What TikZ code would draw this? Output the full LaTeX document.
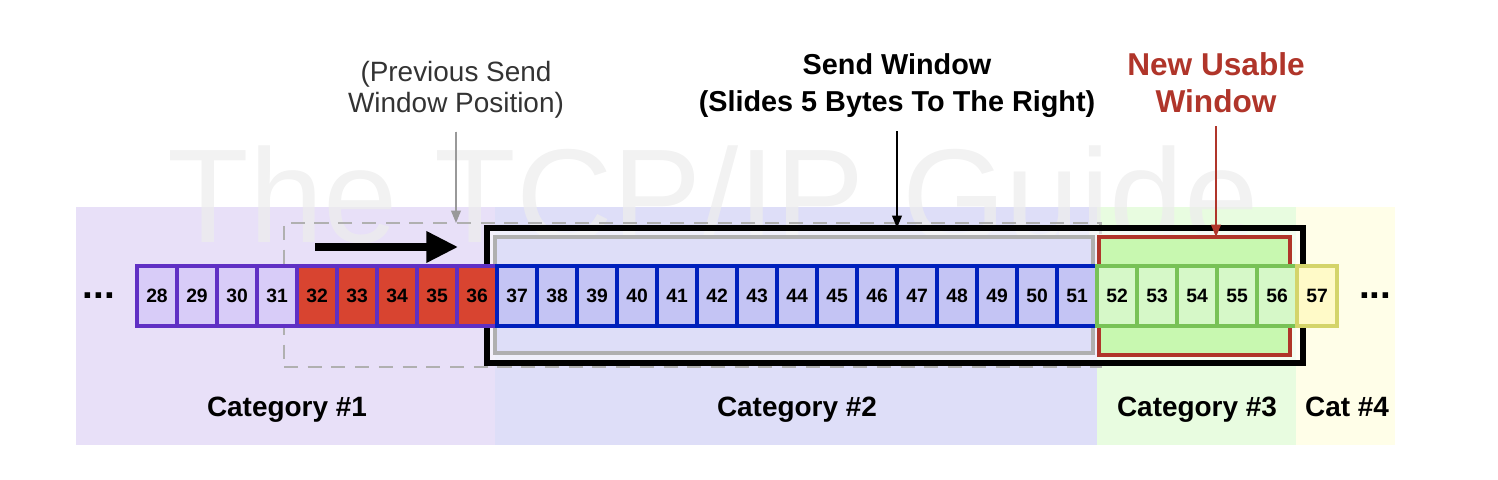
\documentclass[tikz,border=0pt]{standalone}
\usepackage{fontspec}
\setmainfont{Liberation Sans}
\usetikzlibrary{arrows.meta, positioning, fit}

\definecolor{catonebg}{HTML}{E8E0F8}
\definecolor{cattwobg}{HTML}{DEDEF8}
\definecolor{catthreebg}{HTML}{E8FCE0}
\definecolor{catfourbg}{HTML}{FFFEE8}
\definecolor{purpleedge}{HTML}{6030C4}
\definecolor{lilacfill}{HTML}{D8CCF8}
\definecolor{sentfill}{HTML}{D84430}
\definecolor{blueedge}{HTML}{0020BC}
\definecolor{bluefill}{HTML}{C4C4F4}
\definecolor{greenedge}{HTML}{78C256}
\definecolor{greenfill}{HTML}{D6F8C8}
\definecolor{yellowedge}{HTML}{D4D46A}
\definecolor{yellowfill}{HTML}{FFFAC8}
\definecolor{usablered}{HTML}{B0352A}
\definecolor{usablefill}{HTML}{C8F8B0}
\definecolor{oldgray}{HTML}{B0B0B0}

\begin{document}
\begin{tikzpicture}[
    x=0.02cm, y=-0.02cm,
    catbg/.style={fill=#1, draw=none, inner sep=0pt},
    byte/.style 2 args={rectangle, draw=#1, fill=#2, line width=2.6pt, outer sep=0pt, inner sep=0pt, minimum width=0.8cm, minimum height=1.2cm, font=\fontsize{11}{12}\selectfont\bfseries},
    window/.style={inner sep=0pt, outer sep=0pt},
    lbl/.style={align=center, font=\fontsize{15.9}{17.6}\selectfont},
    boldlbl/.style={align=center, font=\fontsize{16.4}{21}\selectfont\bfseries},
    catlbl/.style={anchor=base, font=\fontsize{15.9}{18}\selectfont\bfseries},
    more/.style={font=\fontsize{22}{22}\selectfont\bfseries},
    pointer/.style={line width=0.9pt, -{Triangle[length=7pt, width=5.5pt]}, shorten <=4pt}
]
\useasboundingbox (0,0) rectangle (1498,480);

% Category bands
\node[catbg=catonebg, fit={(76,207) (495,445)}] (cat1bg) {};
\node[catbg=cattwobg, fit={(495,207) (1097,445)}] (cat2bg) {};
\node[catbg=catthreebg, fit={(1097,207) (1296,445)}] (cat3bg) {};
\node[catbg=catfourbg, fit={(1296,207) (1395,445)}] (cat4bg) {};

% Watermark
\node[text=gray!14, text opacity=0.75, font=\fontsize{76}{80}\selectfont] (mark) at (713,195) {The TCP/IP Guide};

% Windows
\node[window, draw=oldgray, line width=1.7pt, dash pattern=on 8pt off 5.5pt, fit={(284,223) (1100,367)}] (prevwin) {};
\node[window, draw=black, line width=2.9pt, fill=white, fill opacity=0.55, draw opacity=1, fit={(487,228) (1303,363)}] (sendwin) {};
\node[window, draw=oldgray, line width=2.3pt, fill=cattwobg, fit={(495,237) (1093,353)}] (sentwin) {};
\node[window, draw=usablered, line width=2.3pt, fill=usablefill, fit={(1099,237) (1290,355)}] (usewin) {};

% Byte cells
\foreach \n in {28,...,31}
  \node[byte={purpleedge}{lilacfill}] (b\n) at ({157+40*(\n-28)},296) {\n};
\foreach \n in {32,...,36}
  \node[byte={purpleedge}{sentfill}] (b\n) at ({157+40*(\n-28)},296) {\n};
\foreach \n in {37,...,51}
  \node[byte={blueedge}{bluefill}] (b\n) at ({157+40*(\n-28)},296) {\n};
\foreach \n in {52,...,56}
  \node[byte={greenedge}{greenfill}] (b\n) at ({157+40*(\n-28)},296) {\n};
\node[byte={yellowedge}{yellowfill}] (b57) at (1317,296) {57};

\node[more, left=9pt of b28] (moreleft) {...};
\node[more, right=9pt of b57] (moreright) {...};

% Slide arrow
\coordinate (slidefrom) at (315,247);
\coordinate (slideto) at (458,247);
\draw[line width=4pt, -{Triangle[length=18pt, width=17pt]}] (slidefrom) -- (slideto);

% Labels and pointers
\node[lbl, text=black!80] (prevlbl) at (456,90) {(Previous Send\\Window Position)};
\node[boldlbl] (sendlbl) at (897,86) {Send Window\\(Slides 5 Bytes To The Right)};
\node[boldlbl, text=usablered, font=\fontsize{18}{21}\selectfont\bfseries] (newlbl) at (1216,83) {New Usable\\Window};

\draw[pointer, draw=gray!80, fill=gray!80] (prevlbl.south) -- (prevlbl.south |- prevwin.north);
\draw[pointer] (sendlbl.south) -- (sendlbl.south |- sendwin.north);
\draw[pointer, draw=usablered, fill=usablered] (newlbl.south) -- (newlbl.south |- usewin.north);

% Category names
\node[catlbl] (cat1lbl) at (287,416) {Category \#1};
\node[catlbl] (cat2lbl) at (797,416) {Category \#2};
\node[catlbl] (cat3lbl) at (1197,416) {Category \#3};
\node[catlbl] (cat4lbl) at (1347,416) {Cat \#4};

\end{tikzpicture}
\end{document}
